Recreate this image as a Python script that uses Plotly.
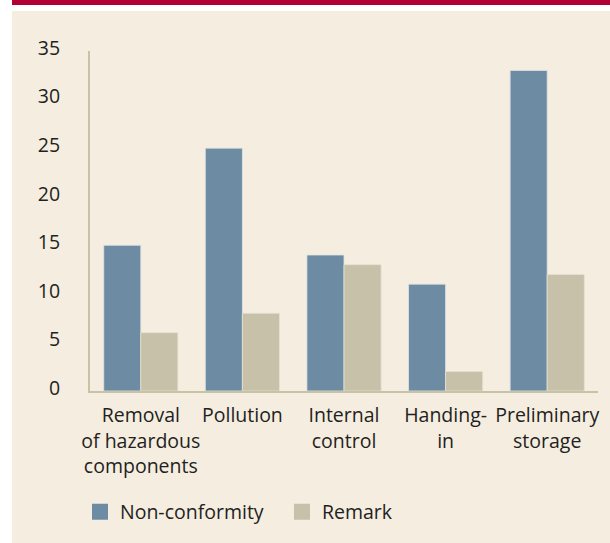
import plotly.graph_objects as go

categories = ["Removal<br>of hazardous<br>components", "Pollution", "Internal<br>control", "Handing-<br>in", "Preliminary<br>storage"]
non_conformity = [15, 25, 14, 11, 33]
remark = [6, 8, 13, 2, 12]
y_ticks = [0, 5, 10, 15, 20, 25, 30, 35]
series_names = ["Non-conformity", "Remark"]
series_colors = ["#6d8ca3", "#c6c1a8"]

W, H = 610, 543
L, R, T, B = 90, 12, 51, 152
pw, ph = W - L - R, H - T - B

def px_x(p):
    return (p - L) / pw

def px_y(p):
    return (H - B - p) / ph

font = dict(family="Open Sans, Noto Sans, sans-serif", size=19.5, color="#231f20")

fig = go.Figure()
for name, vals, col, edge in zip(series_names, [non_conformity, remark], series_colors,
                                 ["#dfe3e3", "#e6e1d2"]):
    fig.add_bar(x=categories, y=vals, name=name, showlegend=False,
                marker=dict(color=col, line=dict(color=edge, width=0.8)))
# legend entries with larger square swatches
for name, col in zip(series_names, series_colors):
    fig.add_scatter(x=[None], y=[None], mode="markers", name=name,
                    marker=dict(symbol="square", size=16, color=col))

fig.update_layout(
    width=W, height=H,
    margin=dict(l=L, r=R, t=T, b=B, autoexpand=False),
    paper_bgcolor="white",
    plot_bgcolor="rgba(0,0,0,0)",
    font=font,
    barmode="group",
    bargap=0.27,
    bargroupgap=0,
    showlegend=True,
    legend=dict(orientation="h", x=px_x(80), y=px_y(512), xanchor="left", yanchor="middle",
                bgcolor="rgba(0,0,0,0)", font=font, itemwidth=30, traceorder="normal",
                entrywidth=157, entrywidthmode="pixels"),
    shapes=[
        dict(type="rect", xref="paper", yref="paper", x0=px_x(12), x1=px_x(611),
             y0=px_y(544), y1=px_y(11), fillcolor="#f5ede0", line=dict(width=0), layer="below"),
        dict(type="rect", xref="paper", yref="paper", x0=px_x(12), x1=px_x(611),
             y0=px_y(5), y1=px_y(-1), fillcolor="#b00034", line=dict(width=0), layer="below"),
    ],
)
fig.update_yaxes(range=[0, 35], tickvals=y_ticks, showgrid=False, zeroline=False,
                 showline=True, linecolor="#c8c2a6", linewidth=2,
                 ticks="", ticklabelstandoff=24, ticklabelshift=-3, tickfont=font)
fig.update_xaxes(showgrid=False, zeroline=False, showline=True, linecolor="#c8c2a6",
                 linewidth=2, ticks="", tickfont=font, tickangle=0, ticklabelstandoff=6)

fig.write_html("out.html", config={"displayModeBar": False},
               post_script="document.body.style.margin='0';document.body.style.overflow='hidden';")
